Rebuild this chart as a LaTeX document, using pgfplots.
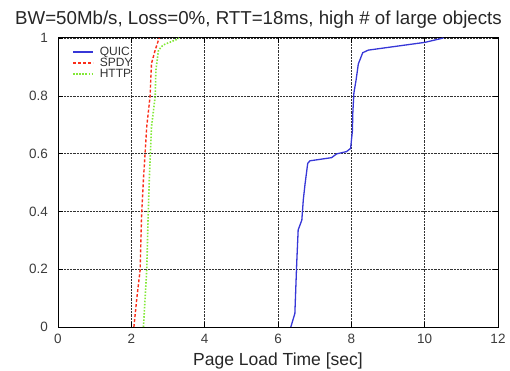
\documentclass[border=0pt]{standalone}
\usepackage{fontspec}
\setmainfont{Liberation Sans}
\usepackage{pgfplots}
\pgfplotsset{compat=1.18}
\definecolor{quic}{RGB}{55,55,215}
\definecolor{spdy}{RGB}{250,45,25}
\definecolor{http}{RGB}{130,232,55}
\definecolor{tickgray}{RGB}{60,60,60}
\begin{document}
\begin{tikzpicture}
\begin{axis}[
  at={(0pt,0pt)}, anchor=south west,
  scale only axis, width=440pt, height=289pt,
  xmin=0, xmax=12, ymin=0, ymax=1,
  xtick={0,2,...,12}, ytick={0,0.2,...,1},
  yticklabels={0,0.2,0.4,0.6,0.8,1},
  /pgf/number format/assume math mode=true,
  tick align=inside, major tick length=5pt,
  tick style={black, line width=0.6pt},
  axis line style={black, line width=1pt},
  grid=major,
  major grid style={black!80, line width=0.45pt, densely dotted},
  ticklabel style={font=\fontsize{13.5}{15}\selectfont, text=tickgray},
  xticklabel style={anchor=base, inner sep=0pt, yshift=-16pt},
  yticklabel style={anchor=east, inner sep=0pt, xshift=-10pt},
  xlabel={Page Load Time [sec]},
  xlabel style={font=\fontsize{17.5}{20}\selectfont, text=black!85, at={(axis description cs:0.5,0)}, anchor=base, inner sep=0pt, yshift=-38pt},
  legend style={draw=none, fill=none, at={(axis description cs:0,1)}, anchor=north west,
     xshift=14pt, yshift=-7pt, inner sep=0pt, font=\fontsize{12}{14}\selectfont,
     column sep=4pt, row sep=-3pt},
  legend cell align=left,
  legend image code/.code={\draw[#1] (0pt,0pt) -- (20pt,0pt);},
]
\addplot[color=quic, line width=1.3pt] coordinates {
(6.35,0) (6.46,0.047) (6.51,0.22) (6.55,0.336) (6.65,0.37) (6.69,0.44) (6.74,0.497) (6.81,0.566) (6.87,0.575) (7.46,0.586) (7.60,0.599) (7.87,0.607) (7.98,0.618) (8.03,0.68) (8.04,0.74) (8.07,0.81) (8.13,0.855) (8.19,0.91) (8.31,0.949) (8.46,0.958) (10.01,0.985) (10.51,1.0)
};
\addlegendentry{\textcolor{black!80}{QUIC}}
\addplot[color=spdy, line width=1.4pt, dash pattern=on 3pt off 2pt] coordinates {
(2.07,0) (2.15,0.1) (2.24,0.197) (2.28,0.39) (2.33,0.51) (2.42,0.693) (2.51,0.797) (2.55,0.912) (2.65,0.958) (2.74,0.993) (2.76,1)
};
\addlegendentry{\textcolor{black!80}{SPDY}}
\addplot[color=http, line width=1.6pt, dash pattern=on 1.5pt off 1.6pt] coordinates {
(2.33,0) (2.42,0.197) (2.46,0.39) (2.49,0.51) (2.55,0.693) (2.65,0.797) (2.67,0.889) (2.74,0.958) (2.87,0.976) (3.24,0.995) (3.3,1)
};
\addlegendentry{\textcolor{black!80}{HTTP}}
\end{axis}
\node[anchor=base, inner sep=0pt, text=black!85, font=\fontsize{18.7}{22}\selectfont] at (200.5pt,302pt) {BW=50Mb/s, Loss=0\%, RTT=18ms, high \# of large objects};
\pgfresetboundingbox
\useasboundingbox (-58pt,-43pt) rectangle (452pt,327pt);
\end{tikzpicture}
\end{document}
